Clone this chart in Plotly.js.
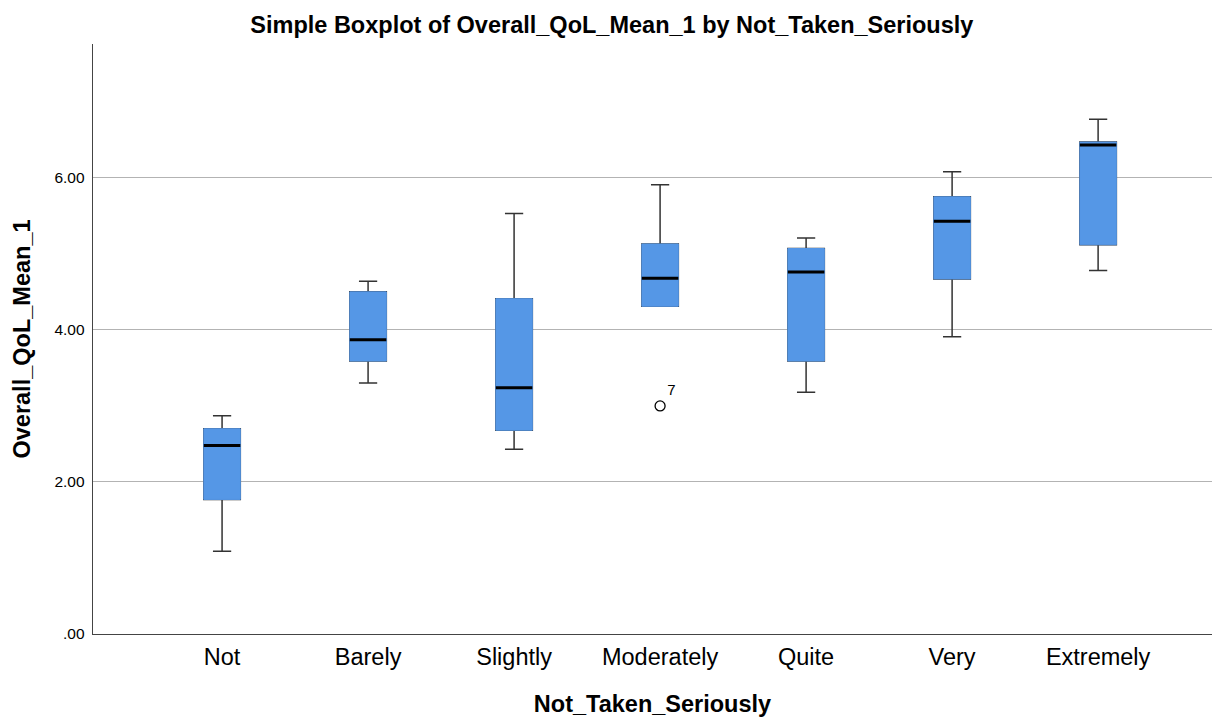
<!DOCTYPE html>
<html>
<head>
<meta charset="utf-8">
<script src="https://cdn.plot.ly/plotly-3.0.1.min.js"></script>
<style>html,body{margin:0;padding:0;background:#fff;}#chart{width:1214px;height:717px;}</style>
</head>
<body>
<div id="chart"></div>
<script>
const categories = ["Not", "Barely", "Slightly", "Moderately", "Quite", "Very", "Extremely"];
const lowerWhisker = [1.09, 3.30, 2.43, 4.31, 3.18, 3.91, 4.78];
const q1Values     = [1.77, 3.59, 2.68, 4.31, 3.59, 4.67, 5.12];
const medianValues = [2.48, 3.87, 3.24, 4.68, 4.76, 5.43, 6.43];
const q3Values     = [2.70, 4.50, 4.41, 5.13, 5.07, 5.75, 6.47];
const upperWhisker = [2.87, 4.64, 5.53, 5.91, 5.21, 6.08, 6.77];
const outlierCategory = ["Moderately"];
const outlierValues = [3.00];
const outlierLabels = ["7"];
const yTickVals = [0, 2, 4, 6];
const yTickText = [".00", "2.00", "4.00", "6.00"];

const boxFill = "#5597e6";
const boxWidth = 0.25;

const whiskerTrace = {
  type: "box", x: categories,
  q1: q1Values, median: medianValues, q3: q3Values,
  lowerfence: lowerWhisker, upperfence: upperWhisker,
  fillcolor: boxFill, line: {color: "#333333", width: 1.5},
  whiskerwidth: 0.5, width: boxWidth, boxpoints: false,
  hoverinfo: "skip", showlegend: false
};
const coverTrace = {
  type: "box", x: categories,
  q1: q1Values, median: medianValues, q3: q3Values,
  lowerfence: q1Values, upperfence: q3Values,
  fillcolor: boxFill, line: {color: boxFill, width: 1},
  whiskerwidth: 0, width: boxWidth, boxpoints: false,
  hoverinfo: "skip", showlegend: false
};
const medianTrace = {
  type: "box", x: categories,
  q1: medianValues, median: medianValues, q3: medianValues,
  lowerfence: medianValues, upperfence: medianValues,
  fillcolor: "#000000", line: {color: "#000000", width: 3},
  whiskerwidth: 0, width: boxWidth, boxpoints: false,
  hoverinfo: "skip", showlegend: false
};
const outlierTrace = {
  type: "scatter", mode: "markers+text",
  x: outlierCategory, y: outlierValues, text: outlierLabels,
  textposition: "top right",
  textfont: {family: "Liberation Sans, Arial, sans-serif", size: 15, color: "#000"},
  marker: {symbol: "circle-open", size: 10, color: "#000", line: {width: 1.3, color: "#000"}},
  hoverinfo: "skip", showlegend: false
};

const layout = {
  width: 1214, height: 717,
  margin: {l: 93, r: 2, t: 44, b: 83},
  paper_bgcolor: "#fff", plot_bgcolor: "#fff",
  boxmode: "overlay",
  font: {family: "Liberation Sans, Arial, sans-serif", color: "#000"},
  title: {
    text: "<b>Simple Boxplot of Overall_QoL_Mean_1 by Not_Taken_Seriously</b>",
    font: {size: 23.5, color: "#000"}, x: 0.504, xanchor: "center", y: 0.965, yanchor: "middle"
  },
  xaxis: {
    type: "category", categoryorder: "array", categoryarray: categories,
    range: [-0.884, 6.78],
    showline: true, linecolor: "#444", linewidth: 1.3, showgrid: false, zeroline: false,
    ticks: "", tickfont: {size: 23.5, color: "#000"}, ticklabelstandoff: 1,
    title: {text: "<b>Not_Taken_Seriously</b>", font: {size: 23.5, color: "#000"}, standoff: 30}
  },
  yaxis: {
    range: [0, 7.76],
    tickvals: yTickVals, ticktext: yTickText,
    showline: true, linecolor: "#444", linewidth: 1.3,
    showgrid: true, gridcolor: "#b3b3b3", gridwidth: 1, zeroline: false,
    ticks: "", tickfont: {size: 15.5, color: "#000"}, ticklabelstandoff: 4,
    title: {text: "<b>Overall_QoL_Mean_1</b>", font: {size: 23.5, color: "#000"}, standoff: 17}
  }
};

Plotly.newPlot("chart", [whiskerTrace, coverTrace, medianTrace, outlierTrace], layout, {displayModeBar: false, staticPlot: true});
</script>
</body>
</html>
